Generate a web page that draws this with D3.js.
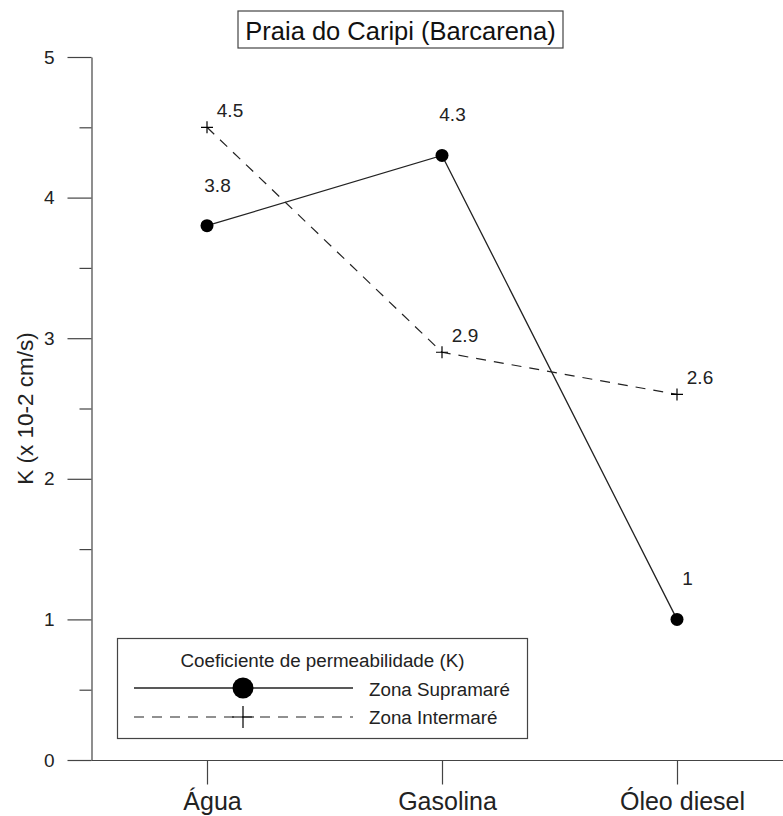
<!DOCTYPE html>
<html>
<head>
<meta charset="utf-8">
<script src="https://cdn.jsdelivr.net/npm/d3@7/dist/d3.min.js"></script>
<style>
  html, body { margin: 0; padding: 0; background: #fff; }
  svg { display: block; font-family: "Liberation Sans", Arial, Helvetica, sans-serif; }
</style>
</head>
<body>
<svg id="chart" width="783" height="816"></svg>
<script>
const categories = ["Água", "Gasolina", "Óleo diesel"];
const supramare = [3.8, 4.3, 1];
const intermare = [4.5, 2.9, 2.6];
const supraLabels = ["3.8", "4.3", "1"];
const interLabels = ["4.5", "2.9", "2.6"];
const yTicks = [0, 1, 2, 3, 4, 5];
const yMinorTicks = [0.5, 1.5, 2.5, 3.5, 4.5];
const titleText = "Praia do Caripi (Barcarena)";
const yTitle = "K (x 10-2 cm/s)";
const legendTitle = "Coeficiente de permeabilidade (K)";
const seriesNames = ["Zona Supramaré", "Zona Intermaré"];

const svg = d3.select("#chart");
const ink = "#222";
const axisInk = "#444";

const x = d3.scalePoint().domain(categories).range([207, 677]);
const y = d3.scaleLinear().domain([0, 5]).range([760, 57]);

// Title with box
const tg = svg.append("g");
tg.append("rect").attr("x", 238).attr("y", 11).attr("width", 325).attr("height", 37)
  .attr("fill", "#fff").attr("stroke", axisInk).attr("stroke-width", 1.2);
tg.append("text").attr("x", 400.5).attr("y", 40).attr("text-anchor", "middle")
  .attr("font-size", 25.5).attr("fill", "#111").text(titleText);

// Y axis
const yAxis = svg.append("g").attr("transform", "translate(91.5,0)")
  .call(d3.axisLeft(y).tickValues(yTicks).tickSize(24).tickSizeOuter(0).tickPadding(13).tickFormat(d3.format("d")));
yAxis.select(".domain").attr("stroke", axisInk).attr("stroke-width", 1.2);
yAxis.selectAll(".tick line").attr("stroke", axisInk).attr("stroke-width", 1.2);
yAxis.selectAll(".tick text").attr("font-size", 19).attr("fill", "#222")
  .attr("font-family", "Liberation Sans, Arial, sans-serif");
const yMinor = svg.append("g").attr("transform", "translate(91.5,0)")
  .call(d3.axisLeft(y).tickValues(yMinorTicks).tickSize(12).tickFormat(""));
yMinor.select(".domain").remove();
yMinor.selectAll(".tick line").attr("stroke", axisInk).attr("stroke-width", 1.2);

// Y title
svg.append("text").attr("transform", "translate(33," + ((y(0) + y(5)) / 2) + ") rotate(-90)")
  .attr("text-anchor", "middle").attr("font-size", 22.5).attr("fill", "#222").text(yTitle);

// X axis
const xAxis = svg.append("g").attr("transform", "translate(0,760.5)")
  .call(d3.axisBottom(x).tickSize(24).tickSizeOuter(0).tickPadding(8));
xAxis.select(".domain").remove();
xAxis.selectAll(".tick line").attr("stroke", axisInk).attr("stroke-width", 1.2);
xAxis.selectAll(".tick text").attr("font-size", 25).attr("fill", "#222").attr("dx", 5)
  .attr("font-family", "Liberation Sans, Arial, sans-serif");
svg.append("line").attr("x1", 91.5).attr("x2", 783).attr("y1", 760.5).attr("y2", 760.5)
  .attr("stroke", axisInk).attr("stroke-width", 1.2);

// Data lines
const supraData = categories.map((c, i) => ({ c, v: supramare[i], l: supraLabels[i] }));
const interData = categories.map((c, i) => ({ c, v: intermare[i], l: interLabels[i] }));
const line = d3.line().x(d => x(d.c)).y(d => y(d.v));

svg.append("path").datum(interData).attr("d", line).attr("fill", "none")
  .attr("stroke", ink).attr("stroke-width", 1.2).attr("stroke-dasharray", "10,8");
svg.append("path").datum(supraData).attr("d", line).attr("fill", "none")
  .attr("stroke", ink).attr("stroke-width", 1.3);

// Markers
svg.selectAll("circle.supra").data(supraData).enter().append("circle")
  .attr("class", "supra").attr("cx", d => x(d.c)).attr("cy", d => y(d.v)).attr("r", 6.5).attr("fill", "#000");
const cross = (s) => `M${-s},0H${s}M0,${-s}V${s}`;
svg.selectAll("path.inter").data(interData).enter().append("path")
  .attr("class", "inter").attr("transform", d => `translate(${x(d.c)},${y(d.v)})`)
  .attr("d", cross(6)).attr("stroke", "#000").attr("stroke-width", 1.2).attr("fill", "none");

// Point labels
svg.selectAll("text.sl").data(supraData).enter().append("text")
  .attr("class", "sl").attr("x", d => x(d.c) + 10.5).attr("y", d => y(d.v) - 34)
  .attr("text-anchor", "middle").attr("font-size", 19).attr("fill", "#222").text(d => d.l);
svg.selectAll("text.il").data(interData).enter().append("text")
  .attr("class", "il").attr("x", d => x(d.c) + 23).attr("y", d => y(d.v) - 10.5)
  .attr("text-anchor", "middle").attr("font-size", 19).attr("fill", "#222").text(d => d.l);

// Legend
const lg = svg.append("g");
lg.append("rect").attr("x", 117.5).attr("y", 638.5).attr("width", 410).attr("height", 100)
  .attr("fill", "#fff").attr("stroke", axisInk).attr("stroke-width", 1.2);
lg.append("text").attr("x", 322.5).attr("y", 667).attr("text-anchor", "middle")
  .attr("font-size", 18.8).attr("fill", "#222").text(legendTitle);
lg.append("line").attr("x1", 134).attr("x2", 353).attr("y1", 688).attr("y2", 688)
  .attr("stroke", ink).attr("stroke-width", 1.3);
lg.append("circle").attr("cx", 243).attr("cy", 688).attr("r", 10.5).attr("fill", "#000");
lg.append("text").attr("x", 369).attr("y", 695.5).attr("font-size", 18.8).attr("fill", "#222").text(seriesNames[0]);
lg.append("line").attr("x1", 134).attr("x2", 353).attr("y1", 717).attr("y2", 717)
  .attr("stroke", ink).attr("stroke-width", 1.2).attr("stroke-dasharray", "10,8");
lg.append("path").attr("transform", "translate(243,717)").attr("d", cross(11))
  .attr("stroke", "#000").attr("stroke-width", 1.2).attr("fill", "none");
lg.append("text").attr("x", 369).attr("y", 724).attr("font-size", 18.8).attr("fill", "#222").text(seriesNames[1]);
</script>
</body>
</html>
